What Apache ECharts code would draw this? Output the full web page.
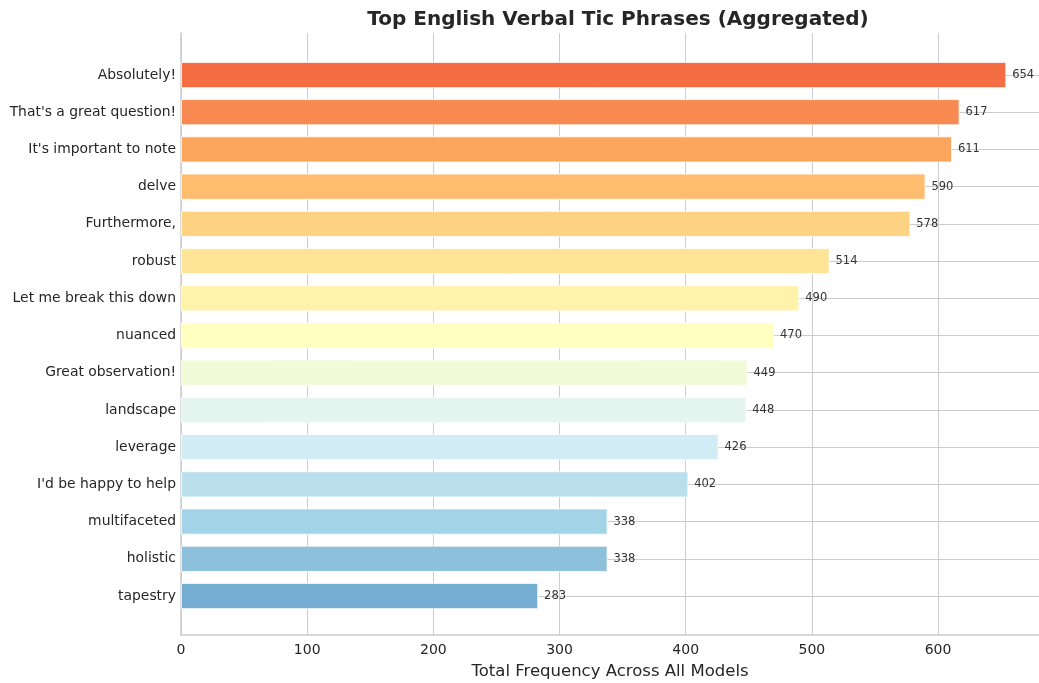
<!DOCTYPE html>
<html>
<head>
<meta charset="utf-8">
<script src="https://cdn.jsdelivr.net/npm/echarts@6/dist/echarts.min.js"></script>
<style>html,body{margin:0;padding:0;background:#fff}#c{width:1039px;height:683px}</style>
</head>
<body>
<div id="c"></div>
<script>
const categories = ["Absolutely!", "That's a great question!", "It's important to note", "delve", "Furthermore,", "robust", "Let me break this down", "nuanced", "Great observation!", "landscape", "leverage", "I'd be happy to help", "multifaceted", "holistic", "tapestry"];
const values = [654, 617, 611, 590, 578, 514, 490, 470, 449, 448, 426, 402, 338, 338, 283];
const colors = ["#f46d43", "#f88950", "#fca55d", "#fdbc6e", "#fed283", "#fee497", "#fff2ab", "#ffffbf", "#f2fad7", "#e4f5f0", "#d1ecf4", "#bae0ed", "#a3d3e6", "#8cc0db", "#74add1"];
const xTicks = [0, 100, 200, 300, 400, 500, 600];

const FONT = "DejaVu Sans";
const chart = echarts.init(document.getElementById('c'), null, {renderer: 'canvas', width: 1039, height: 683});
chart.setOption({
  animation: false,
  backgroundColor: '#ffffff',
  textStyle: {fontFamily: FONT},
  title: {
    text: 'Top English Verbal Tic Phrases (Aggregated)',
    left: 613, top: 5, textAlign: 'center',
    textStyle: {fontFamily: FONT, fontSize: 20, fontWeight: 'bold', color: '#262626'}
  },
  grid: [
    {left: 181, width: 858, top: 33, height: 602, containLabel: false, outerBoundsMode: 'none'},
    {left: 181, width: 858, top: 75, height: 521, containLabel: false, outerBoundsMode: 'none'}
  ],
  xAxis: [
    {
      gridIndex: 0, type: 'value', min: 0, max: 680, interval: 100,
      axisLine: {show: true, lineStyle: {color: '#cccccc', width: 1.5}},
      axisTick: {show: false},
      splitLine: {show: true, showMaxLine: false, lineStyle: {color: '#cccccc', width: 1}},
      axisLabel: {fontFamily: FONT, fontSize: 14, color: '#262626', margin: 8,
        formatter: v => xTicks.includes(v) ? String(v) : ''},
      name: 'Total Frequency Across All Models',
      nameLocation: 'middle', nameGap: 28,
      nameTextStyle: {fontFamily: FONT, fontSize: 16.5, color: '#262626'}
    },
    {
      gridIndex: 1, type: 'value', min: 0, max: 680, show: false
    }
  ],
  yAxis: [
    {
      gridIndex: 0, type: 'value', min: 0, max: 1,
      axisLine: {show: true, lineStyle: {color: '#cccccc', width: 1.5}},
      axisTick: {show: false}, axisLabel: {show: false}, splitLine: {show: false}
    },
    {
      gridIndex: 1, type: 'category', data: categories, inverse: true, boundaryGap: false,
      axisLine: {show: false}, axisTick: {show: false},
      splitLine: {show: true, lineStyle: {color: '#cccccc', width: 1}},
      axisLabel: {fontFamily: FONT, fontSize: 13.9, color: '#262626', margin: 5}
    }
  ],
  series: [{
    type: 'bar', xAxisIndex: 1, yAxisIndex: 1,
    barWidth: '70%',
    data: values.map((v, i) => ({value: v, itemStyle: {color: colors[i]}})),
    itemStyle: {borderColor: '#ffffff', borderWidth: 0.8},
    label: {show: true, position: 'right', distance: 6,
      fontFamily: FONT, fontSize: 11.5, color: '#333333'}
  }]
});
</script>
</body>
</html>
